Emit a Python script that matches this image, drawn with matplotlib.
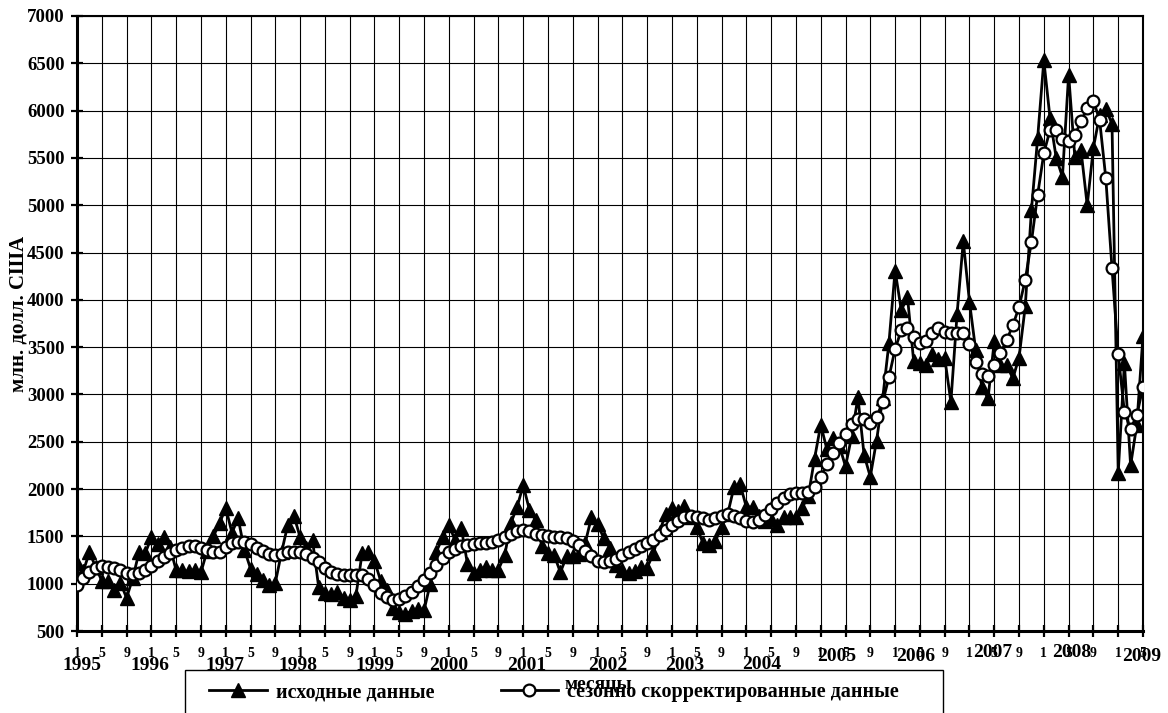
import numpy as np
import matplotlib.pyplot as plt
from matplotlib.transforms import blended_transform_factory
from matplotlib.patches import Rectangle

plt.rcParams['font.family'] = ['Liberation Serif', 'DejaVu Serif']
plt.rcParams['font.weight'] = 'bold'

# monthly values, Jan 1995 .. May 2009, mln USD
raw = [1220, 1130, 1330, 1180, 1030, 1030, 930, 1010, 850, 1060, 1330, 1320,
       1490, 1420, 1490, 1390, 1140, 1140, 1130, 1150, 1120, 1350, 1500, 1640,
       1800, 1540, 1690, 1360, 1160, 1100, 1040, 990, 1010, 1330, 1620, 1720,
       1490, 1380, 1460, 960, 900, 890, 910, 850, 830, 870, 1320, 1330,
       1240, 1030, 930, 740, 700, 680, 710, 730, 720, 1000, 1340, 1490,
       1620, 1460, 1590, 1210, 1110, 1150, 1180, 1150, 1150, 1300, 1640, 1810,
       2040, 1780, 1670, 1400, 1320, 1300, 1120, 1290, 1290, 1310, 1430, 1700,
       1630, 1480, 1380, 1200, 1140, 1110, 1130, 1180, 1170, 1320, 1550, 1740,
       1800, 1770, 1820, 1700, 1600, 1430, 1410, 1450, 1600, 1740, 2020, 2050,
       1810, 1810, 1720, 1660, 1680, 1620, 1700, 1710, 1700, 1800, 1930, 2320,
       2680, 2420, 2540, 2460, 2240, 2560, 2970, 2360, 2130, 2510, 2960, 3540,
       4310, 3890, 4030, 3350, 3330, 3310, 3430, 3380, 3390, 2920, 3850, 4620,
       3980, 3470, 3080, 2960, 3560, 3310, 3310, 3170, 3390, 3930, 4950, 5710,
       6530, 5920, 5500, 5300, 6380, 5510, 5580, 5000, 5610, 5950, 6020, 5860,
       2170, 3330, 2250, 2680, 3620]

adjusted = [985, 1055, 1120, 1165, 1185, 1180, 1165, 1140, 1115, 1105, 1110, 1140,
            1185, 1235, 1280, 1320, 1355, 1380, 1395, 1395, 1380, 1355, 1330, 1340,
            1385, 1425, 1445, 1440, 1415, 1380, 1345, 1315, 1300, 1315, 1335, 1340,
            1330, 1310, 1275, 1230, 1170, 1120, 1100, 1095, 1095, 1095, 1090, 1050,
            985, 905, 855, 828, 835, 865, 915, 975, 1040, 1115, 1200, 1270,
            1330, 1370, 1395, 1410, 1420, 1428, 1435, 1445, 1460, 1490, 1530, 1560,
            1570, 1555, 1530, 1510, 1500, 1495, 1490, 1480, 1455, 1410, 1345, 1290,
            1245, 1225, 1235, 1265, 1300, 1335, 1365, 1395, 1425, 1460, 1510, 1570,
            1620, 1665, 1700, 1715, 1708, 1690, 1675, 1695, 1720, 1735, 1720, 1690,
            1665, 1655, 1675, 1725, 1790, 1850, 1905, 1945, 1955, 1955, 1965, 2020,
            2130, 2265, 2380, 2490, 2585, 2690, 2745, 2740, 2700, 2760, 2920, 3180,
            3480, 3680, 3705, 3605, 3540, 3560, 3645, 3700, 3665, 3650, 3650, 3645,
            3535, 3345, 3215, 3195, 3310, 3435, 3575, 3730, 3925, 4210, 4615, 5110,
            5550, 5795, 5795, 5705, 5680, 5740, 5885, 6025, 6105, 5900, 5285, 4335,
            3425, 2815, 2635, 2780, 3080]

years = [str(y) for y in range(1995, 2010)]
labels = ['исходные данные', 'сезонно скорректированные данные']

# where the year captions sit (month index / pixel row), they drift in the original
year_x = [0.8, 11.8, 23.9, 35.6, 48.1, 60.0, 72.6, 85.6, 98.1, 110.5, 122.6, 135.3, 147.7, 160.5, 171.8]
year_y = [670, 670, 670, 670, 670, 670, 670, 670, 670, 669, 661, 661, 657, 657, 661]

W, H = 1168, 713
fig = plt.figure(figsize=(W / 100, H / 100), dpi=100)
ax = fig.add_axes([77 / W, 1 - 631 / H, (1143 - 77) / W, (631 - 16) / H])

x = np.arange(len(raw))
l1, = ax.plot(x, raw, color='black', lw=2, marker='^', ms=9.5, mfc='black', mec='black', zorder=3)
l2, = ax.plot(x, adjusted, color='black', lw=2, marker='o', ms=8.5, mfc='white', mec='black', mew=1.6, zorder=4)

ax.set_xlim(0, len(raw) - 1)
ax.set_ylim(500, 7000)
ax.set_yticks(range(500, 7001, 500))
ax.set_xticks(range(0, len(raw), 4))
ax.set_xticklabels([])
ax.grid(True, color='black', lw=0.8)
ax.set_axisbelow(True)
for s in ['left', 'bottom']:
    ax.spines[s].set_linewidth(2.2)
for s in ['top', 'right']:
    ax.spines[s].set_linewidth(1.5)
ax.tick_params(axis='both', direction='inout', length=8, width=1.6, labelsize=13.5, pad=5)

tr = blended_transform_factory(ax.transData, fig.transFigure)
for m in range(0, len(raw), 4):
    ax.text(m, 1 - 657 / H, str(m % 12 + 1), transform=tr, ha='center', va='baseline',
            fontsize=10, fontweight='bold', clip_on=False)
for i, yr in enumerate(years):
    ax.text(year_x[i], 1 - year_y[i] / H, yr, transform=tr, ha='center', va='baseline',
            fontsize=14, fontweight='bold', clip_on=False)

fig.text(19 / W, 1 - 314 / H, 'млн. долл. США', rotation=90, ha='center', va='center',
         fontsize=15, fontweight='bold')

fig.patches.append(Rectangle((185 / W, -0.05), (943 - 185) / W, (713 - 670) / H + 0.05,
                             transform=fig.transFigure, fill=True, fc='white', ec='black', lw=1))
fig.legend([l1, l2], labels, loc='upper left', bbox_to_anchor=(185 / W, 1 - 658 / H),
           ncol=2, frameon=False, fontsize=14.5, handlelength=2.85, handletextpad=0.45,
           columnspacing=3.3, borderpad=0.7, numpoints=1)
fig.text(598 / W, 1 - 684 / H, 'месяцы', ha='center', va='center', fontsize=14,
         fontweight='bold', zorder=10)

fig.savefig('out.png', dpi=100)
